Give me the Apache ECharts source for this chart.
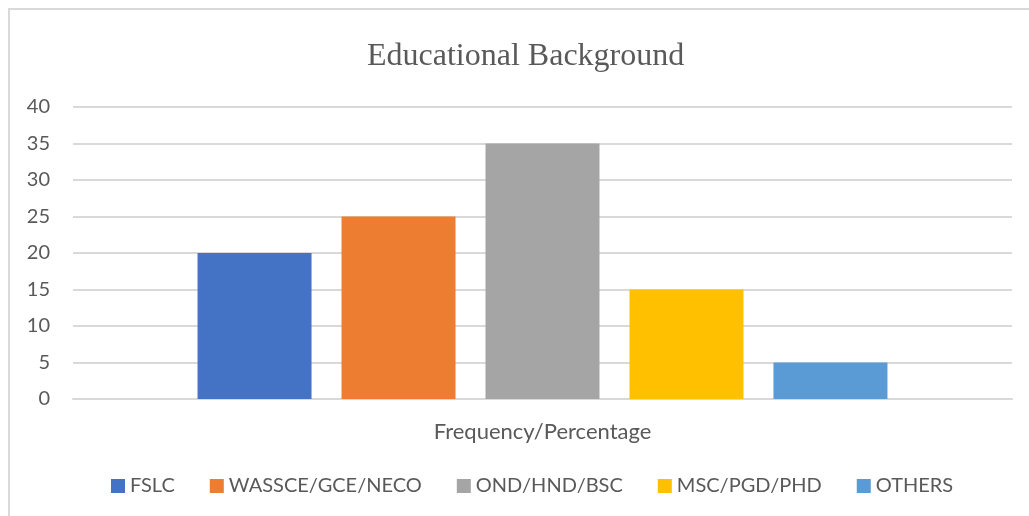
<!DOCTYPE html>
<html>
<head>
<meta charset="utf-8">
<style>
  html, body { margin: 0; padding: 0; background: #ffffff; }
  #chart { width: 1029px; height: 516px; }
</style>
<script src="https://cdn.jsdelivr.net/npm/echarts@6/dist/echarts.min.js"></script>
</head>
<body>
<div id="chart"></div>
<script>
// Education levels of respondents, one bar per level
const categories = ['Frequency/Percentage'];
const seriesNames = ['FSLC', 'WASSCE/GCE/NECO', 'OND/HND/BSC', 'MSC/PGD/PHD', 'OTHERS'];
const seriesValues = [20, 25, 35, 15, 5];
const seriesColors = ['#4472C4', '#ED7D31', '#A5A5A5', '#FFC000', '#5B9BD5'];
const yTicks = [0, 5, 10, 15, 20, 25, 30, 35, 40];

const textColor = '#595959';
const sansFont = 'Lato, "Open Sans", sans-serif';

const chart = echarts.init(document.getElementById('chart'), null, { renderer: 'canvas' });

chart.setOption({
  animation: false,
  backgroundColor: '#ffffff',
  color: seriesColors,
  graphic: [{
    type: 'rect',
    shape: { x: 9, y: 9, width: 1040, height: 540 },
    style: { fill: 'none', stroke: '#d9d9d9', lineWidth: 2 },
    silent: true
  }],
  title: {
    text: 'Educational Background',
    left: 362,
    top: 36,
    textStyle: {
      fontFamily: '"Liberation Serif", "Times New Roman", serif',
      fontWeight: 'normal',
      fontSize: 32,
      color: textColor
    }
  },
  grid: { left: 73, right: 17, top: 107, bottom: 117, containLabel: false },
  xAxis: {
    type: 'category',
    data: categories,
    axisLine: { show: true, lineStyle: { color: '#d9d9d9', width: 2 } },
    axisTick: { show: false },
    axisLabel: { color: textColor, fontFamily: sansFont, fontSize: 22, margin: 22 }
  },
  yAxis: {
    type: 'value',
    min: yTicks[0],
    max: yTicks[yTicks.length - 1],
    interval: yTicks[1] - yTicks[0],
    axisLine: { show: false },
    axisTick: { show: false },
    splitLine: { lineStyle: { color: '#d9d9d9', width: 2 } },
    axisLabel: { color: textColor, fontFamily: sansFont, fontSize: 20, margin: 23 }
  },
  legend: {
    left: 106,
    top: 471,
    icon: 'rect',
    itemWidth: 14,
    itemHeight: 14,
    itemGap: 35,
    textStyle: { color: textColor, fontFamily: sansFont, fontSize: 20, padding: [0, 0, 0, 0] },
    data: seriesNames
  },
  series: seriesNames.map((name, i) => ({
    name: name,
    type: 'bar',
    barWidth: 114,
    barGap: '26.3%',
    data: [seriesValues[i]],
    itemStyle: { color: seriesColors[i] }
  }))
});
</script>
</body>
</html>
